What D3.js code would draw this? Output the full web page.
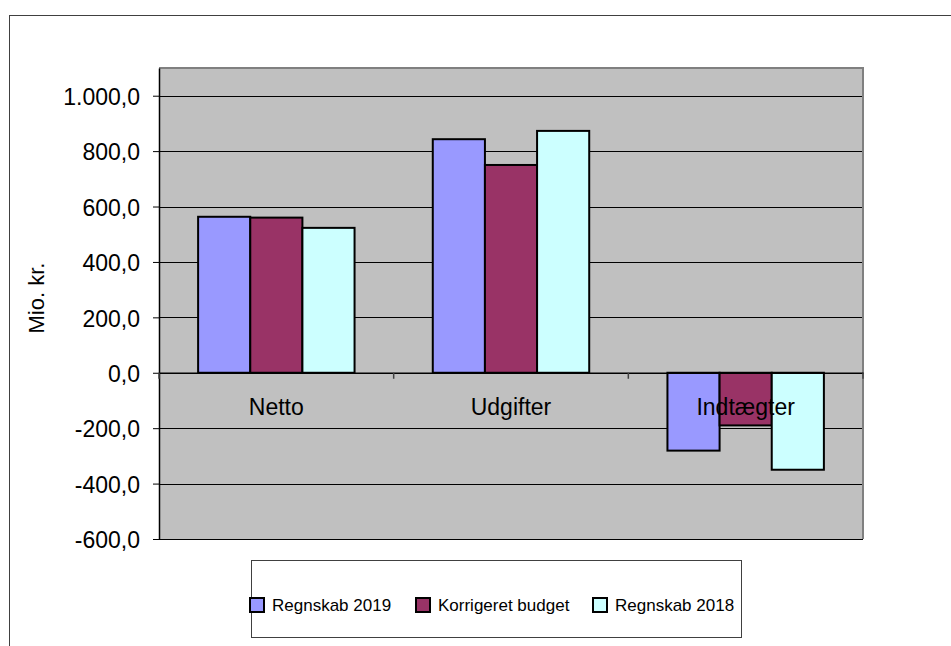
<!DOCTYPE html>
<html>
<head>
<meta charset="utf-8">
<script src="https://cdn.jsdelivr.net/npm/d3@7"></script>
<style>
  html, body { margin: 0; padding: 0; background: #fff; }
  svg { display: block; font-family: Arial, "Liberation Sans", sans-serif; }
</style>
</head>
<body>
<svg id="chart" width="951" height="646"></svg>
<script>
// ---- data ----
const categories = ["Netto", "Udgifter", "Indtægter"];
const seriesNames = ["Regnskab 2019", "Korrigeret budget", "Regnskab 2018"];
const regnskab2019 = [563, 843, -281];
const korrigeretBudget = [560, 750, -190];
const regnskab2018 = [523, 873, -350];
const yTicks = [-600, -400, -200, 0, 200, 400, 600, 800, 1000];
const yLabel = "Mio. kr.";

const seriesValues = [regnskab2019, korrigeretBudget, regnskab2018];
const colors = ["#9999FF", "#993366", "#CCFFFF"];

const svg = d3.select("#chart");

// outer chart border
svg.append("rect")
  .attr("x", 9.5).attr("y", 15.5)
  .attr("width", 960).attr("height", 660)
  .attr("fill", "#fff").attr("stroke", "#404040").attr("stroke-width", 1);

const plot = { left: 159, top: 68, right: 863, bottom: 539 };

const y = d3.scaleLinear().domain([-600, 1100]).range([plot.bottom, plot.top]);
const x0 = d3.scaleBand().domain(categories).range([plot.left, plot.right]).padding(0);
const barW = x0.bandwidth() / 4.5;
const x1 = d3.scaleBand().domain(seriesNames)
  .range([barW * 0.75, x0.bandwidth() - barW * 0.75]).padding(0);

const loc = d3.formatLocale({ decimal: ",", thousands: ".", grouping: [3], currency: ["", ""], minus: "-" });
const fmt = loc.format(",.1f");

// plot background
svg.append("rect")
  .attr("x", plot.left).attr("y", plot.top)
  .attr("width", plot.right - plot.left).attr("height", plot.bottom - plot.top)
  .attr("fill", "#C0C0C0");

// gridlines
svg.append("g").selectAll("line").data(yTicks).join("line")
  .attr("x1", plot.left).attr("x2", plot.right)
  .attr("y1", d => Math.round(y(d)) + 0.5).attr("y2", d => Math.round(y(d)) + 0.5)
  .attr("stroke", "#000").attr("stroke-width", 1);

// plot border top/right
svg.append("path")
  .attr("d", `M${plot.left},${plot.top} H${plot.right} V${plot.bottom}`)
  .attr("fill", "none").attr("stroke", "#808080").attr("stroke-width", 2);

// bars
const groups = svg.append("g").selectAll("g").data(categories).join("g")
  .attr("transform", c => `translate(${x0(c)},0)`);
groups.selectAll("rect")
  .data((c, i) => seriesNames.map((s, j) => ({ s, v: seriesValues[j][i], color: colors[j] })))
  .join("rect")
  .attr("x", d => x1(d.s))
  .attr("width", x1.bandwidth())
  .attr("y", d => y(Math.max(0, d.v)))
  .attr("height", d => Math.abs(y(d.v) - y(0)))
  .attr("fill", d => d.color)
  .attr("stroke", "#000").attr("stroke-width", 2);

// y axis
const yAxis = d3.axisLeft(y).tickValues(yTicks).tickFormat(fmt).tickSizeInner(6).tickSizeOuter(0).tickPadding(13);
const gy = svg.append("g").attr("transform", `translate(${plot.left},0)`).call(yAxis);
gy.select(".domain").attr("stroke", "#000").attr("stroke-width", 1.5);
gy.selectAll(".tick line").attr("stroke", "#000");
gy.selectAll(".tick text").attr("font-size", 23).attr("fill", "#000")
  .attr("font-family", "Arial, 'Liberation Sans', sans-serif").attr("dy", "0.38em");

// x axis at zero
const xAxis = d3.axisBottom(x0).tickSize(0).tickFormat("");
const gx = svg.append("g").attr("transform", `translate(0,${y(0)})`).call(xAxis);
gx.select(".domain").attr("stroke", "#000").attr("stroke-width", 1.5);
// boundary ticks between categories
const boundaries = categories.map(c => x0(c) + x0.bandwidth()).concat([plot.left]);
svg.append("g").selectAll("line").data(boundaries).join("line")
  .attr("x1", d => d).attr("x2", d => d)
  .attr("y1", y(0)).attr("y2", y(0) + 6)
  .attr("stroke", "#404040").attr("stroke-width", 1.5);

// category labels
svg.append("g").selectAll("text").data(categories).join("text")
  .attr("x", c => x0(c) + x0.bandwidth() / 2)
  .attr("y", y(0) + 42)
  .attr("text-anchor", "middle")
  .attr("font-size", 23)
  .attr("fill", "#000")
  .text(c => c);

// y label
svg.append("text")
  .attr("transform", "translate(44,298) rotate(-90)")
  .attr("text-anchor", "middle")
  .attr("font-size", 22)
  .attr("fill", "#000")
  .text(yLabel);

// legend
const legend = svg.append("g");
legend.append("rect")
  .attr("x", 251.5).attr("y", 560.5).attr("width", 490).attr("height", 77)
  .attr("fill", "#fff").attr("stroke", "#404040").attr("stroke-width", 1);
const legendX = [250, 416, 593];
const li = legend.selectAll("g.item").data(seriesNames).join("g").attr("class", "item")
  .attr("transform", (d, i) => `translate(${legendX[i]},598)`);
li.append("rect").attr("width", 14).attr("height", 14)
  .attr("fill", (d, i) => colors[i]).attr("stroke", "#000").attr("stroke-width", 2);
li.append("text").attr("x", 22).attr("y", 7).attr("dy", "0.36em")
  .attr("font-size", 17).attr("fill", "#000").text(d => d);
</script>
</body>
</html>
